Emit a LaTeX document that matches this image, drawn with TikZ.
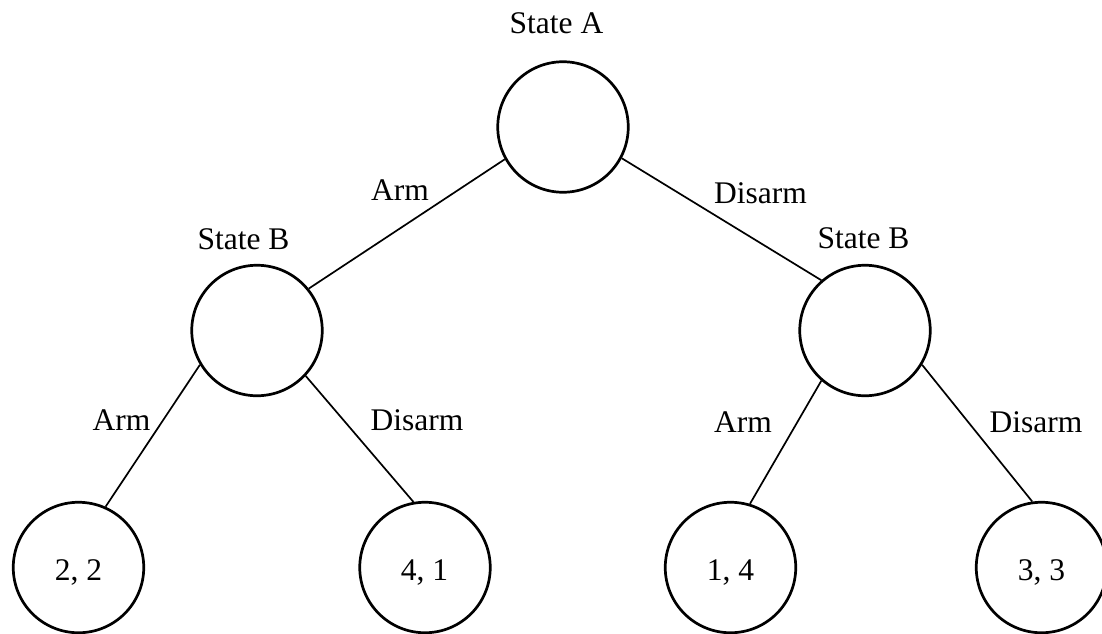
\documentclass[tikz,border=0pt]{standalone}
\usepackage{fontspec}
\setmainfont{Liberation Serif}
\begin{document}
\begin{tikzpicture}[x=1pt,y=-1pt,
  state/.style={draw, circle, line width=2.7pt, minimum size=130.5pt, inner sep=0pt},
  edge/.style={line width=1.7pt},
  lbl/.style={anchor=base, inner sep=0pt, font=\fontsize{31.5}{37}\selectfont}]
\useasboundingbox (0,0) rectangle (1102,633);
% states
\node[state] (A) at (563,127) {};
\node[state] (BL) at (257,330.5) {};
\node[state] (BR) at (865,330.5) {};
\node[state] (L1) at (78.5,567.5) {};
\node[state] (L2) at (425,567.5) {};
\node[state] (L3) at (730.5,567.5) {};
\node[state] (L4) at (1041.5,567.5) {};
% state labels
\node[lbl] (tA) at (556.5,33) {State A};
\node[lbl] (tBL) at (243.5,249) {State B};
\node[lbl] (tBR) at (863.5,248) {State B};
% payoffs
\node[lbl] (p1) at (78.5,580) {2, 2};
\node[lbl] (p2) at (424.5,580) {4, 1};
\node[lbl] (p3) at (730.5,580) {1, 4};
\node[lbl] (p4) at (1041.5,580) {3, 3};
% edges
\draw[edge] (A.209) -- (BL.39);
\draw[edge] (A.-28) -- (BR.131.7);
\draw[edge] (BL.211) -- (L1.66);
\draw[edge] (BL.-43) -- (L2.100.8);
\draw[edge] (BR.229) -- (L3.73.5);
\draw[edge] (BR.-31) -- (L4.98);
% edge labels
\node[lbl] (e1) at (400,200) {Arm};
\node[lbl] (e2) at (760.5,203) {Disarm};
\node[lbl] (e3) at (121.5,430) {Arm};
\node[lbl] (e4) at (417,430) {Disarm};
\node[lbl] (e5) at (743,432) {Arm};
\node[lbl] (e6) at (1036,432) {Disarm};
\end{tikzpicture}
\end{document}
